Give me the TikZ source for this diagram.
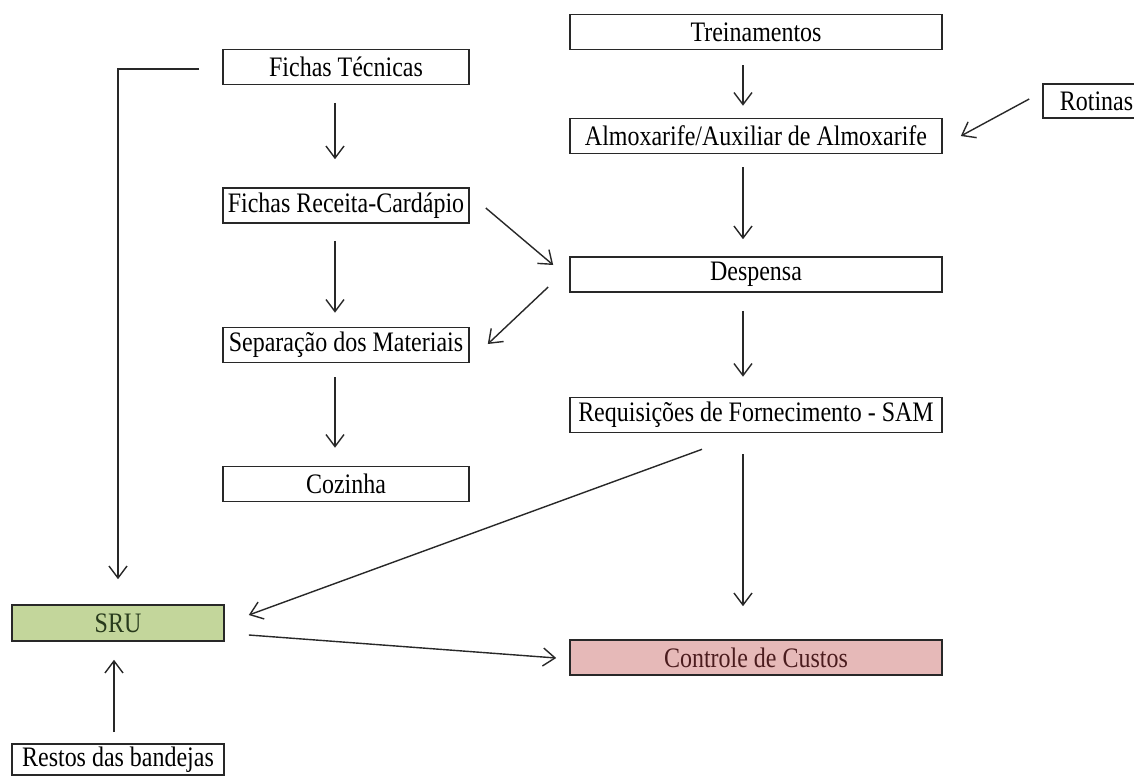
\documentclass[tikz,border=0pt]{standalone}
\usepackage{fontspec}
\setmainfont{Liberation Serif}
\newfontfamily\dfont[FakeStretch=0.85]{Liberation Serif}
\usetikzlibrary{arrows.meta,calc}
\definecolor{srufill}{RGB}{195,214,155}
\definecolor{srutext}{RGB}{40,58,28}
\definecolor{ctrlfill}{RGB}{230,185,184}
\definecolor{ctrltext}{RGB}{75,28,30}
\definecolor{linec}{RGB}{40,40,40}
\tikzset{
  box/.style={draw=linec, line width=0.8pt, inner sep=0pt, minimum height=17.5pt,
    font=\dfont\fontsize{14.1}{16}\selectfont, text=black},
  wide/.style={box, minimum width=186pt},
  mid/.style={box, minimum width=123pt},
  small/.style={box, minimum width=106pt},
  arr/.style={draw=linec, line width=0.7pt, -{Straight Barb[length=6pt,width=9pt,line width=0.7pt]}},
  plain/.style={draw=linec, line width=0.7pt}
}
\begin{document}
\begin{tikzpicture}[x=0.5pt,y=-0.5pt]
\clip (0,0) rectangle (1134,776);
\fill[white] (0,0) rectangle (1134,776);
% right column
\node[wide] (tr) at (756,32) {Treinamentos};
\node[wide] (alm) at (756,136) {Almoxarife/Auxiliar de Almoxarife};
\node[wide] (desp) at (756,274.5) {Despensa};
\node[wide] (req) at (756,415) {Requisições de Fornecimento - SAM};
\node[wide, fill=ctrlfill, text=ctrltext] (ctrl) at (756,657.5) {Controle de Custos};
% middle column
\node[mid] (ft) at (346,67) {Fichas Técnicas};
\node[mid] (fr) at (346,205.5) {Fichas Receita-Cardápio};
\node[mid] (sep) at (346,345) {Separação dos Materiais};
\node[mid] (coz) at (346,484) {Cozinha};
% left column
\node[small, fill=srufill, text=srutext, minimum height=18pt] (sru) at (118,623) {SRU};
\node[small, minimum height=15.5pt] (rest) at (118,759.5) {Restos das bandejas};
% rotinas
\node[box, minimum width=53.5pt, minimum height=17pt] (rot) at (1096.5,101) {Rotinas};
% connectors
\draw[arr] ($(ft.west)+(-23,2)$) -| ($(sru.north)+(0,-25)$);
\draw[arr] ($(ft.south)+(-11,17.5)$) -- ($(fr.north)+(-11,-28)$);
\draw[arr] ($(fr.south)+(-11,17)$) -- ($(sep.north)+(-11,-14)$);
\draw[arr] ($(sep.south)+(-11,14)$) -- ($(coz.north)+(-11,-18)$);
\draw[arr] ($(tr.south)+(-13,15)$) -- ($(alm.north)+(-13,-12)$);
\draw[arr] ($(alm.south)+(-13,13)$) -- ($(desp.north)+(-13,-17)$);
\draw[arr] ($(desp.south)+(-13,18)$) -- ($(req.north)+(-13,-20)$);
\draw[arr] ($(req.south)+(-13,21)$) -- ($(ctrl.north)+(-13,-33)$);
\draw[arr] ($(rot.west)+(-13,-2)$) -- ($(alm.east)+(18,0)$);
\draw[arr] ($(fr.east)+(16,2.5)$) -- ($(desp.west)+(-16,-9.5)$);
\draw[arr] ($(desp.west)+(-21,12.5)$) -- ($(sep.east)+(18,-1)$);
\draw[arr] ($(req.south)+(-54,16)$) -- ($(sru.east)+(24,-8)$);
\draw[arr] ($(sru.east)+(24,12)$) -- ($(ctrl.west)+(-13,0.5)$);
\draw[arr] ($(rest.north)+(-4,-11)$) -- ($(sru.south)+(-4,18)$);
\end{tikzpicture}
\end{document}
